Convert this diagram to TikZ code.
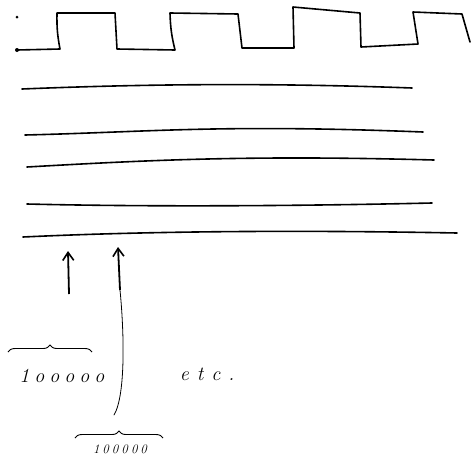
\documentclass[tikz,border=0pt]{standalone}
\usetikzlibrary{decorations.pathreplacing,arrows.meta}
\begin{document}
\begin{tikzpicture}[x=1pt,y=-1pt,
  ink/.style={line width=1.6pt,line cap=round,line join=round},
  thinink/.style={line width=0.8pt,line cap=round},
  uparrow/.style={line width=1.8pt,-{Straight Barb[length=8pt,width=11pt,line width=1.6pt]}},
  brc/.style={line width=0.9pt,decorate,decoration={brace,amplitude=7pt}},
  lbl/.style={inner sep=0pt,font=\itshape}]
\useasboundingbox (0,0) rectangle (471,461);
% square wave
\fill (17,17) circle (1.5pt);
\fill (17,50) circle (2pt);
\draw[ink] (17,50) -- (60,49) to[bend left=6] (57,13) -- (115,13) -- (117,49) -- (175,50)
  to[bend left=6] (170,13) -- (238,14) -- (242,48) -- (294,48) -- (293,7) -- (360,13)
  -- (361,47) -- (418,44) -- (413,12) -- (462,14) -- (470,42);
% horizontal lines
\draw[ink] (22,89) .. controls (120,85) and (250,82) .. (412,88);
\draw[ink] (25,135) .. controls (150,132) and (220,124) .. (423,132);
\draw[ink] (27,167) .. controls (150,160) and (250,155) .. (434,160);
\draw[ink] (27,204) .. controls (150,207) and (300,206) .. (432,203);
\draw[ink] (23,237) .. controls (150,231) and (300,230) .. (457,233);
% arrows
\coordinate (a1b) at (69,294);
\coordinate (a1t) at (68,251);
\coordinate (a2m) at (120,290);
\coordinate (a2t) at (118,247);
\draw[uparrow] (a1b) -- (a1t);
\draw[uparrow] (a2m) -- (a2t);
% labels
\node[lbl,font=\fontsize{20}{20}\selectfont\itshape] (t1) at (62,376)
  {1\hspace{5pt}o\hspace{5pt}o\hspace{5pt}o\hspace{5pt}o\hspace{5pt}o};
\node[lbl,font=\fontsize{20}{20}\selectfont\itshape] (etc) at (207,374)
  {e\hspace{8pt}t\hspace{8pt}c\hspace{8pt}.};
\node[lbl,font=\fontsize{13}{13}\selectfont\itshape] (t2) at (120,449)
  {1\hspace{3pt}0\hspace{3pt}0\hspace{3pt}0\hspace{3pt}0\hspace{3pt}0};
\draw[brc] (8,352) -- (92,352);
\draw[brc] (75,438) -- (163,438);
\coordinate (b2) at (114,415);
\draw[thinink] (b2) .. controls (126,395) and (124,330) .. (a2m);
\end{tikzpicture}
\end{document}
